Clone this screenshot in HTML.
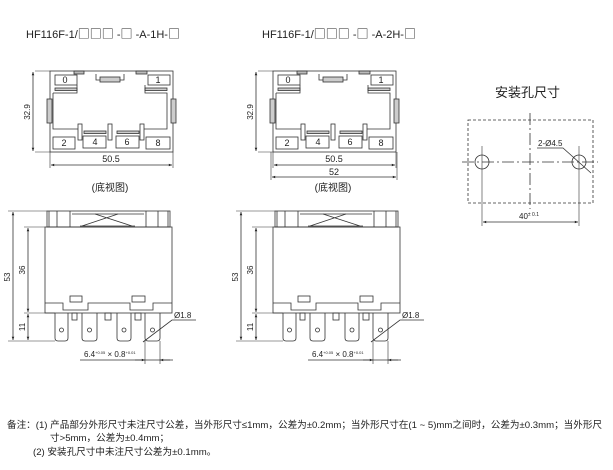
<!DOCTYPE html>
<html><head><meta charset="utf-8"><style>
html,body{margin:0;padding:0;background:#fff;width:613px;height:470px;overflow:hidden}
svg{display:block}
text{font-family:"Liberation Sans","Noto Sans CJK SC",sans-serif;fill:#222}
.b{font-family:"Noto Sans CJK SC",sans-serif}
</style></head><body>
<svg width="613" height="470" viewBox="0 0 613 470" xmlns="http://www.w3.org/2000/svg">
<defs>
<marker id="a" viewBox="0 0 10 10" refX="10" refY="5" markerWidth="6" markerHeight="4" orient="auto-start-reverse"><path d="M0,1 L10,5 L0,9 z" fill="#222"/></marker>
<g id="bv" fill="none" stroke="#333" stroke-width="0.8">
 <rect x="50" y="71" width="123" height="81"/>
 <rect x="74" y="71" width="10" height="3" fill="#bbb"/><rect x="136" y="71" width="11" height="3" fill="#bbb"/>
 <rect x="47" y="99" width="5" height="24" fill="#ccc"/><rect x="171" y="99" width="5" height="24" fill="#ccc"/>
 <rect x="55" y="75" width="22" height="10"/><rect x="148" y="75" width="22" height="10"/>
 <rect x="53" y="137" width="22" height="12"/><rect x="83" y="136" width="23" height="12"/>
 <rect x="116" y="136" width="23" height="12"/><rect x="146" y="137" width="24" height="12"/>
 <path d="M96,74 V80 H124 V74"/><rect x="100" y="77" width="20" height="5" fill="#ccc"/>
 <rect x="55" y="88" width="22" height="2.5" fill="#ccc"/><rect x="145" y="88" width="22" height="2.5" fill="#ccc"/>
 <path d="M53,93 H77 V85 M145,85 V93 H167 V129 H144 M53,93 V129 H78"/>
 <rect x="78" y="124" width="4" height="16"/><rect x="108" y="124" width="4" height="16"/><rect x="140" y="124" width="4" height="16"/>
 <rect x="84" y="131" width="22" height="2.5" fill="#ccc"/><rect x="117" y="131" width="22" height="2.5" fill="#ccc"/>
 <path d="M35,71 H50 M35,152 H50 M50,152 V168 M173,152 V168" stroke-width="0.6"/>
 <line x1="33" y1="72" x2="33" y2="151" marker-start="url(#a)" marker-end="url(#a)"/>
 <line x1="51" y1="165" x2="172" y2="165" marker-start="url(#a)" marker-end="url(#a)"/>
</g>
<g id="sv" fill="none" stroke="#333" stroke-width="0.8">
 <rect x="47" y="211" width="123" height="16"/>
 <path d="M49,211 V227 M57,211 V227 M70,211 V227 M146,211 V227 M158,211 V227 M168,211 V227 M72,214 H144"/>
 <path d="M82,226 L118,214 M95,214 L132,226 M80,226 H135"/>
 <rect x="45" y="227" width="127" height="86"/>
 <path d="M45,303 H63 V310 H88 V303 H130 V310 H153 V303 H172"/>
 <rect x="70" y="296" width="12" height="6"/><rect x="132" y="296" width="13" height="6"/>
 <path d="M55,313 V338 Q55,341 58,341 H65 Q68,341 68,338 V313"/><circle cx="61.5" cy="330" r="2"/>
 <path d="M82,313 V338 Q82,341 85,341 H94 Q97,341 97,338 V313"/><circle cx="89.5" cy="330" r="2"/>
 <path d="M117,313 V338 Q117,341 120,341 H128 Q131,341 131,338 V313"/><circle cx="124" cy="330" r="2"/>
 <path d="M145,313 V338 Q145,341 148,341 H157 Q160,341 160,338 V313"/><circle cx="152.5" cy="330" r="2"/>
 <rect x="72" y="313" width="5" height="7"/><rect x="105" y="313" width="6" height="7"/><rect x="135" y="313" width="6" height="7"/>
 <path d="M8,211 H47 M24,227 H45 M24,313 H55 M8,341 H55" stroke-width="0.6"/>
 <line x1="13" y1="212" x2="13" y2="340" marker-start="url(#a)" marker-end="url(#a)"/>
 <line x1="28" y1="228" x2="28" y2="312" marker-start="url(#a)" marker-end="url(#a)"/>
 <line x1="28" y1="314" x2="28" y2="340" marker-start="url(#a)" marker-end="url(#a)"/>
 <path d="M143,342 L172,320 H196"/>
 <path d="M145,341 V364 M160,341 V364" stroke-width="0.6"/>
 <path d="M80,360 H173"/>
 <line x1="135" y1="360" x2="145" y2="360" marker-end="url(#a)"/><line x1="170" y1="360" x2="160" y2="360" marker-end="url(#a)"/>
</g>
</defs>
<text x="26" y="38" font-size="11">HF116F-1/<tspan class="b" font-size="12">□□□</tspan> -<tspan class="b" font-size="12">□</tspan> -A-1H-<tspan class="b" font-size="12">□</tspan></text>
<text x="262" y="38" font-size="11">HF116F-1/<tspan class="b" font-size="12">□□□</tspan> -<tspan class="b" font-size="12">□</tspan> -A-2H-<tspan class="b" font-size="12">□</tspan></text>
<use href="#bv"/>
<use href="#bv" transform="translate(223,0)"/>
<g font-size="9" text-anchor="middle">
<text x="65" y="83">0</text><text x="158" y="83">1</text>
<text x="64" y="146">2</text><text x="95" y="145">4</text><text x="127" y="145">6</text><text x="158" y="146">8</text>
<text x="288" y="83">0</text><text x="381" y="83">1</text>
<text x="287" y="146">2</text><text x="318" y="145">4</text><text x="350" y="145">6</text><text x="381" y="146">8</text>
<text x="111" y="162">50.5</text><text x="334" y="162">50.5</text>
<text x="334" y="175">52</text>
<text x="110" y="191" font-size="10">(底视图)</text><text x="333" y="191" font-size="10">(底视图)</text>
<text transform="translate(30,112) rotate(-90)" font-size="8">32.9</text>
<text transform="translate(253,112) rotate(-90)" font-size="8">32.9</text>
</g>
<g fill="none" stroke="#333" stroke-width="0.8">
<path d="M271,152 V180 M397,152 V180" stroke-width="0.6"/>
<line x1="272" y1="177" x2="396" y2="177" marker-start="url(#a)" marker-end="url(#a)"/>
</g>
<use href="#sv"/>
<use href="#sv" transform="translate(228,0)"/>
<g font-size="8" text-anchor="middle">
<text transform="translate(10,277) rotate(-90)">53</text><text transform="translate(25,270) rotate(-90)">36</text><text transform="translate(25,327) rotate(-90)">11</text>
<text transform="translate(238,277) rotate(-90)">53</text><text transform="translate(253,270) rotate(-90)">36</text><text transform="translate(253,327) rotate(-90)">11</text>
</g>
<g font-size="8">
<text x="174" y="318">Ø1.8</text><text x="402" y="318">Ø1.8</text>
<text x="84" y="357">6.4<tspan font-size="4" dy="-3">+0.05</tspan><tspan font-size="8" dy="3"> × 0.8</tspan><tspan font-size="4" dy="-3">+0.01</tspan></text>
<text x="312" y="357">6.4<tspan font-size="4" dy="-3">+0.05</tspan><tspan font-size="8" dy="3"> × 0.8</tspan><tspan font-size="4" dy="-3">+0.01</tspan></text>
</g>
<text x="495" y="97" font-size="13" font-family="Noto Sans CJK SC,sans-serif">安装孔尺寸</text>
<g fill="none" stroke="#333" stroke-width="0.8">
<rect x="468" y="120" width="125" height="83" stroke-dasharray="3,2"/>
<path d="M530,113 V209 M462,162 H598" stroke-dasharray="12,3,2,3"/>
<circle cx="482" cy="162" r="7"/><circle cx="579" cy="162" r="7"/>
<path d="M482,146 V226 M579,146 V226" stroke-width="0.6"/>
<line x1="483" y1="222" x2="578" y2="222" marker-start="url(#a)" marker-end="url(#a)"/>
<path d="M537,148 H563 L591,173"/>
</g>
<text x="538" y="146" font-size="8">2-Ø4.5</text>
<text x="519" y="219" font-size="8">40<tspan font-size="5" dy="-3">± 0.1</tspan></text>
<g font-size="9.6">
<text x="7" y="428" textLength="595" lengthAdjust="spacing">备注：(1)  产品部分外形尺寸未注尺寸公差，当外形尺寸≤1mm，公差为±0.2mm；当外形尺寸在(1 ~ 5)mm之间时，公差为±0.3mm；当外形尺</text>
<text x="50" y="441">寸&gt;5mm，公差为±0.4mm；</text>
<text x="33" y="455">(2)  安装孔尺寸中未注尺寸公差为±0.1mm。</text>
</g>
</svg>
</body></html>
